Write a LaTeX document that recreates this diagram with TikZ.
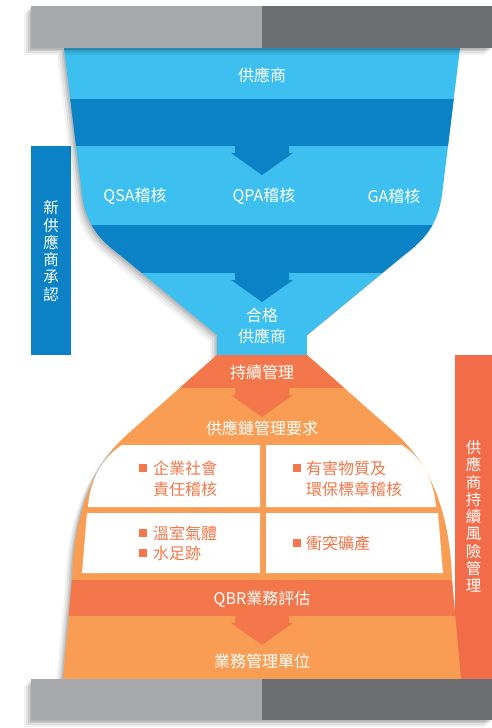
\documentclass[tikz,border=0pt]{standalone}
\usepackage{fontspec}
\setmainfont{Noto Sans CJK TC}
\definecolor{lblue}{HTML}{3DBFEF}
\definecolor{dblue}{HTML}{0A82C5}
\definecolor{lorange}{HTML}{F89D53}
\definecolor{dorange}{HTML}{F3774A}
\definecolor{rbar}{HTML}{F26C4A}
\definecolor{lgray}{HTML}{A7A8AC}
\definecolor{dgray}{HTML}{6D6E71}
\newcommand\dnarrow[4]{\fill[#1] (235,#2) -- (289,#2) -- (289,#3) -- (293,#3) -- (262,#4) -- (231,#3) -- (235,#3) -- cycle;}
\def\topfunnel{(64,48) -- (460,48) -- (442,195) .. controls (438,225) and (424,240) .. (404,255) -- (307,335) -- (307,355) -- (217,355) -- (217,335) -- (120,255) .. controls (100,240) and (86,225) .. (82,195) -- cycle}
\def\botshape{(217,355) -- (307,355) -- (394,432) .. controls (429,462) and (450,510) .. (452,580) -- (461,679) -- (63,679) -- (72,580) .. controls (74,510) and (95,462) .. (130,432) -- cycle}
\begin{document}
\begin{tikzpicture}[x=1pt,y=-1pt,
  lbl/.style={text=white,font=\fontsize{16}{20}\selectfont,inner sep=0pt,align=center},
  itm/.style={text=dorange,font=\fontsize{16}{21}\selectfont,inner sep=0pt,anchor=west,align=left},
  bul/.style={fill=dorange,minimum size=7.5pt,inner sep=0pt},
  vtxt/.style={text=white,font=\fontsize{15.5}{17.3}\selectfont,align=center,inner sep=0pt},
  shd/.style={fill=black,opacity=#1}]
\useasboundingbox (0,0) rectangle (492,728);
% side bars
\fill[dblue] (31,146) rectangle (71,355);
\fill[rbar] (455,355) rectangle (492,679);
% funnel shadow
\foreach \o/\a in {7/0.05,5/0.07,3/0.09,1.5/0.1}{\fill[shd=\a,shift={(-\o,\o)}] \topfunnel;}
\begin{scope}
\clip \topfunnel;
\fill[lblue] (0,40) rectangle (492,360);
\fill[dblue] (0,99) rectangle (492,146);
\fill[dblue] (0,225) rectangle (492,273);
\end{scope}
% bottom shape shadow
\foreach \o/\a in {7/0.05,5/0.07,3/0.09,1.5/0.1}{\fill[shd=\a,shift={(-\o,\o)}] \botshape;}
\begin{scope}
\clip \botshape;
\fill[lorange] (0,350) rectangle (492,690);
\fill[dorange] (0,355) rectangle (492,388);
\fill[dorange] (0,580) rectangle (492,616);
\end{scope}
% white boxes
\fill[white] (122,445) -- (260,445) -- (260,507) -- (88,507) .. controls (90,480) and (102,458) .. (122,445) -- cycle;
\fill[white] (266,445) -- (402,445) .. controls (422,458) and (434,480) .. (436,507) -- (266,507) -- cycle;
\fill[white] (87,513) -- (260,513) -- (260,573) -- (82,573) -- cycle;
\fill[white] (266,513) -- (438,513) -- (443,573) -- (266,573) -- cycle;
% bars with shadow
\foreach \o/\a in {7/0.05,5/0.07,3/0.09,1.5/0.1}{
  \fill[shd=\a,shift={(-\o,\o)}] (31,6) rectangle (492,48);
  \fill[shd=\a,shift={(-\o,\o)}] (31,679) rectangle (492,720);}
\fill[lgray] (31,6) rectangle (262,48);
\fill[dgray] (262,6) rectangle (492,48);
\fill[lgray] (31,679) rectangle (262,720);
\fill[dgray] (262,679) rectangle (492,720);
% arrows
\dnarrow{dblue}{146}{153}{175}
\dnarrow{dblue}{273}{280}{302}
\dnarrow{dorange}{388}{395}{417}
\dnarrow{dorange}{616}{623}{645}
% labels
\node[lbl] (sup) at (262,75) {供應商};
\node[lbl] (qsa) at (135,196) {QSA稽核};
\node[lbl] (qpa) at (264,196) {QPA稽核};
\node[lbl] (ga) at (394,196) {GA稽核};
\node[lbl,font=\fontsize{16}{21}\selectfont] (qual) at (262,326) {合格\\供應商};
\node[lbl] (cont) at (262,372) {持續管理};
\node[lbl] (req) at (262,428) {供應鏈管理要求};
\node[lbl] (qbr) at (262,599) {QBR業務評估};
\node[lbl] (unit) at (262,661) {業務管理單位};
% items
\node[bul] (b1) at (143,468) {};
\node[itm] (csr) at (153,478.5) {企業社會\\責任稽核};
\node[bul] (b2) at (297,468) {};
\node[itm] (haz) at (306,478.5) {有害物質及\\環保標章稽核};
\node[bul] (b3) at (143,533) {};
\node[bul] (b4) at (143,553) {};
\node[itm,font=\fontsize{16}{20}\selectfont] (ghg) at (153,543) {溫室氣體\\水足跡};
\node[bul] (b5) at (297,543) {};
\node[itm] (cm) at (306,543) {衝突礦產};
% vertical texts
\node[vtxt] (newsup) at (51,251) {新\\供\\應\\商\\承\\認};
\node[vtxt] (risk) at (473.5,516.5) {供\\應\\商\\持\\續\\風\\險\\管\\理};
\end{tikzpicture}
\end{document}
